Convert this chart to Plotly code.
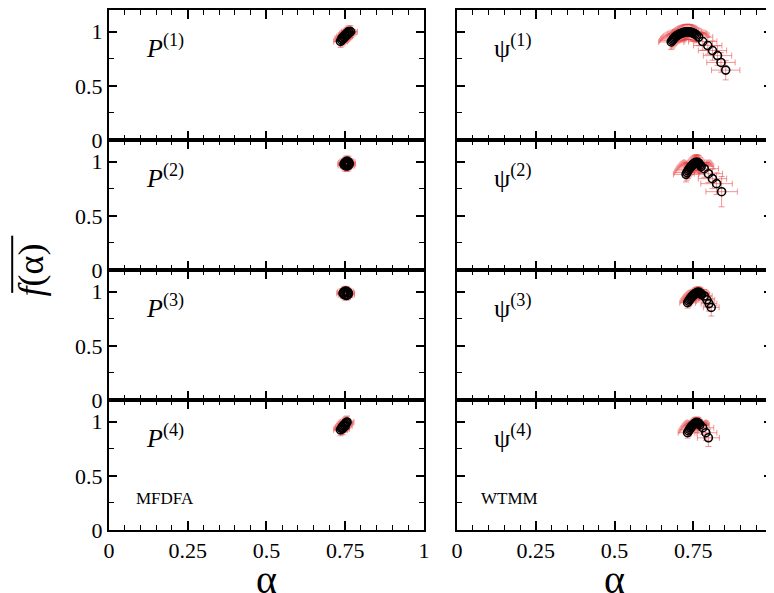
import plotly.graph_objects as go
from plotly.subplots import make_subplots

# ---------------- data ----------------
# MFDFA panels P(1)..P(4)
p1_alpha = [0.735, 0.739, 0.743, 0.747, 0.751, 0.755, 0.759, 0.763, 0.767,
            0.740, 0.745, 0.750, 0.755, 0.760]
p1_f = [0.910, 0.922, 0.934, 0.946, 0.958, 0.970, 0.981, 0.991, 1.000,
        0.940, 0.955, 0.970, 0.985, 0.998]
p1_ea = [0.022] * 14
p1_ef = [0.055] * 14

p2_alpha = [0.746, 0.749, 0.753, 0.757, 0.761, 0.763, 0.760, 0.755, 0.750, 0.754, 0.757]
p2_f = [0.975, 0.990, 1.000, 1.003, 0.995, 0.980, 0.965, 0.960, 0.963, 0.985, 0.975]
p2_ea = [0.02] * 11
p2_ef = [0.05] * 11

p3_alpha = [0.743, 0.746, 0.751, 0.756, 0.760, 0.759, 0.754, 0.748]
p3_f = [0.985, 0.998, 1.005, 1.000, 0.988, 0.972, 0.965, 0.970]
p3_ea = [0.02] * 8
p3_ef = [0.045] * 8

p4_alpha = [0.735, 0.738, 0.741, 0.744, 0.747, 0.750, 0.753, 0.756, 0.742, 0.750]
p4_f = [0.925, 0.938, 0.950, 0.962, 0.972, 0.982, 0.990, 0.997, 0.935, 0.960]
p4_ea = [0.022] * 10
p4_ef = [0.055] * 10

# WTMM panels psi(1)..psi(4)
w1_alpha = [0.680, 0.683, 0.686, 0.689, 0.692, 0.696, 0.700, 0.704, 0.708, 0.712,
            0.716, 0.720, 0.724, 0.728, 0.732, 0.736, 0.740, 0.744, 0.748, 0.752,
            0.756, 0.760, 0.767, 0.780, 0.796, 0.811, 0.827, 0.838, 0.853]
w1_f = [0.905, 0.918, 0.930, 0.940, 0.950, 0.959, 0.967, 0.974, 0.980, 0.985,
        0.990, 0.993, 0.996, 0.998, 0.999, 0.998, 0.996, 0.993, 0.989, 0.984,
        0.977, 0.968, 0.950, 0.909, 0.872, 0.826, 0.779, 0.716, 0.645]
w1_ea = [0.04] * 22 + [0.045, 0.045, 0.045, 0.045, 0.045, 0.045, 0.045]
w1_ef = [0.07] * 22 + [0.08, 0.08, 0.08, 0.09, 0.09, 0.09, 0.09]

w2_alpha = [0.727, 0.730, 0.733, 0.736, 0.739, 0.742, 0.745, 0.748, 0.751, 0.754,
            0.757, 0.760, 0.763, 0.766, 0.769, 0.772, 0.775,
            0.785, 0.798, 0.811, 0.824, 0.840]
w2_f = [0.883, 0.900, 0.915, 0.929, 0.941, 0.952, 0.962, 0.971, 0.979, 0.986,
        0.991, 0.994, 0.993, 0.988, 0.980, 0.968, 0.955,
        0.935, 0.889, 0.843, 0.797, 0.723]
w2_ea = [0.04] * 17 + [0.045, 0.045, 0.045, 0.05, 0.05]
w2_ef = [0.07] * 17 + [0.08, 0.08, 0.09, 0.1, 0.14]

w3_alpha = [0.732, 0.735, 0.738, 0.741, 0.744, 0.747, 0.750, 0.753, 0.756, 0.759,
            0.762, 0.765, 0.768, 0.771, 0.774, 0.777,
            0.785, 0.793, 0.800, 0.807]
w3_f = [0.898, 0.912, 0.925, 0.937, 0.948, 0.958, 0.967, 0.975, 0.982, 0.988,
        0.992, 0.994, 0.993, 0.989, 0.982, 0.972,
        0.960, 0.925, 0.890, 0.855]
w3_ea = [0.025] * 16 + [0.025, 0.025, 0.025, 0.025]
w3_ef = [0.05] * 16 + [0.06, 0.06, 0.07, 0.08]

w4_alpha = [0.732, 0.735, 0.738, 0.741, 0.744, 0.747, 0.750, 0.753, 0.756, 0.759,
            0.762, 0.765, 0.768, 0.771,
            0.780, 0.790, 0.798]
w4_f = [0.898, 0.914, 0.928, 0.941, 0.953, 0.964, 0.973, 0.981, 0.987, 0.991,
        0.992, 0.989, 0.982, 0.970,
        0.944, 0.898, 0.851]
w4_ea = [0.03] * 14 + [0.035, 0.035, 0.035]
w4_ef = [0.05] * 14 + [0.06, 0.07, 0.08]

x_tickvals = [0, 0.25, 0.5, 0.75, 1]
x_ticktext = ["0", "0.25", "0.5", "0.75", "1"]
y_tickvals = [0, 0.5, 1]
y_ticktext = ["0", "0.5", "1"]

left_labels = ["(1)", "(2)", "(3)", "(4)"]
right_labels = ["(1)", "(2)", "(3)", "(4)"]

# ---------------- figure ----------------
SERIF = "Liberation Serif"
ERR = "rgba(232,60,60,0.55)"

fig = make_subplots(rows=4, cols=2, horizontal_spacing=0.05, vertical_spacing=0)

panels = [
    (1, 1, p1_alpha, p1_f, p1_ea, p1_ef),
    (2, 1, p2_alpha, p2_f, p2_ea, p2_ef),
    (3, 1, p3_alpha, p3_f, p3_ea, p3_ef),
    (4, 1, p4_alpha, p4_f, p4_ea, p4_ef),
    (1, 2, w1_alpha, w1_f, w1_ea, w1_ef),
    (2, 2, w2_alpha, w2_f, w2_ea, w2_ef),
    (3, 2, w3_alpha, w3_f, w3_ea, w3_ef),
    (4, 2, w4_alpha, w4_f, w4_ea, w4_ef),
]

for r, c, a, f, ea, ef in panels:
    fig.add_trace(go.Scatter(
        x=a, y=f, mode="markers",
        marker=dict(symbol="circle-open", size=8, color="black", line=dict(width=1.6, color="black")),
        error_x=dict(type="data", array=ea, visible=True, color=ERR, thickness=1, width=3),
        error_y=dict(type="data", array=ef, visible=True, color=ERR, thickness=1, width=3),
        showlegend=False, hoverinfo="skip",
    ), row=r, col=c)

for r in range(1, 5):
    for c in range(1, 3):
        fig.update_xaxes(
            range=[0, 1], tickvals=x_tickvals, ticktext=x_ticktext, automargin=False,
            ticklabeloverflow="allow",
            showticklabels=(r == 4), ticks="inside", ticklen=9, tickwidth=1.6,
            tickcolor="black", showline=True, linewidth=2, linecolor="black",
            mirror="allticks", showgrid=False, zeroline=False,
            minor=dict(dtick=0.05, tick0=0, ticks="inside", ticklen=5, tickwidth=1.4, tickcolor="black", showgrid=False),
            tickfont=dict(family=SERIF, size=22, color="black"),
            row=r, col=c)
        fig.update_yaxes(
            range=[0, 1.2], tickvals=y_tickvals, ticktext=y_ticktext, automargin=False,
            showticklabels=(c == 1), ticks="inside", ticklen=8, tickwidth=1.6,
            tickcolor="black", showline=True, linewidth=2, linecolor="black",
            mirror="allticks", showgrid=False, zeroline=False,
            minor=dict(dtick=0.25, tick0=0, ticks="inside", ticklen=5, tickwidth=1.4, tickcolor="black", showgrid=False),
            tickfont=dict(family=SERIF, size=22, color="black"),
            row=r, col=c)

for i in range(4):
    fig.add_annotation(text="<i>P</i><sup>" + left_labels[i] + "</sup>", x=0.11, y=0.86,
                       xanchor="left", yanchor="middle", showarrow=False,
                       font=dict(family=SERIF, size=26, color="black"), row=i + 1, col=1)
    fig.add_annotation(text="ψ<sup>" + right_labels[i] + "</sup>", x=0.11, y=0.86,
                       xanchor="left", yanchor="middle", showarrow=False,
                       font=dict(family=SERIF, size=26, color="black"), row=i + 1, col=2)

fig.add_annotation(text="MFDFA", x=0.08, y=0.29, xanchor="left", yanchor="middle", showarrow=False,
                   font=dict(family=SERIF, size=17, color="black"), row=4, col=1)
fig.add_annotation(text="WTMM", x=0.07, y=0.29, xanchor="left", yanchor="middle", showarrow=False,
                   font=dict(family=SERIF, size=17, color="black"), row=4, col=2)

# axis titles
fig.add_annotation(text="α", xref="paper", yref="paper", x=0.2375, y=-0.095, xanchor="center",
                   yanchor="middle", showarrow=False, font=dict(family=SERIF, size=40, color="black"))
fig.add_annotation(text="α", xref="paper", yref="paper", x=0.7625, y=-0.095, xanchor="center",
                   yanchor="middle", showarrow=False, font=dict(family=SERIF, size=40, color="black"))
fig.add_annotation(text="<i>f</i>(α)", xref="paper", yref="paper", x=-0.117, y=0.5, xanchor="center",
                   yanchor="middle", textangle=-90, showarrow=False,
                   font=dict(family=SERIF, size=36, color="black"))
fig.add_shape(type="line", xref="paper", yref="paper", x0=-0.146, x1=-0.146, y0=0.456, y1=0.566,
              line=dict(color="black", width=2))

# the page body adds an 8 px offset, so the figure is sized to fit the window after it
fig.update_layout(
    width=766, height=585,
    margin=dict(l=101, r=2, t=2, b=63, autoexpand=False),
    plot_bgcolor="white", paper_bgcolor="white",
)

fig.write_html("out.html")
